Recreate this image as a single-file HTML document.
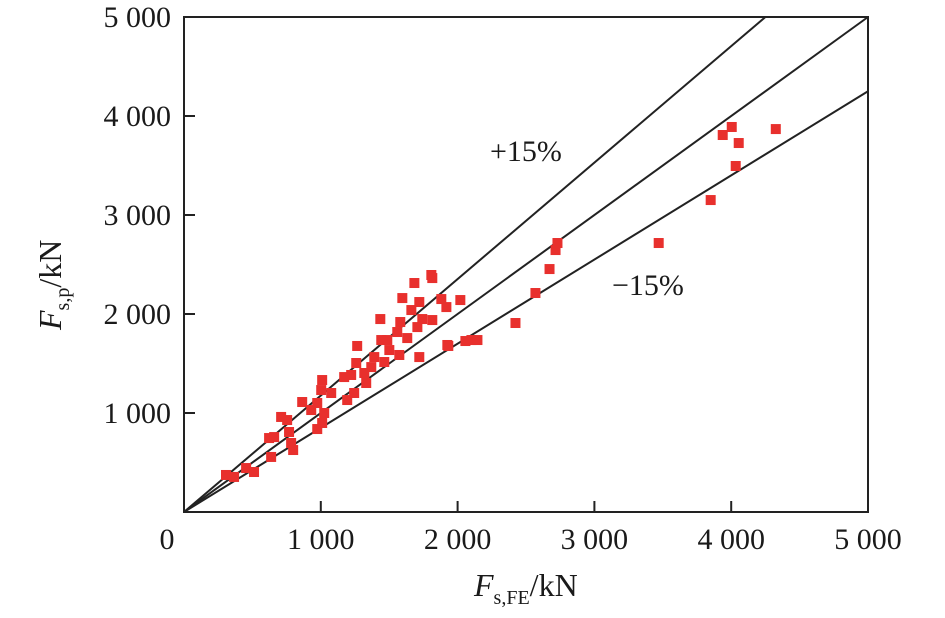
<!DOCTYPE html>
<html><head><meta charset="utf-8"><style>
html,body{margin:0;padding:0;background:#fff;}
svg text{font-family:"Liberation Serif",serif;fill:#1a1a1a;}
</style></head><body>
<svg id="chart" width="945" height="613" viewBox="0 0 945 613" xmlns="http://www.w3.org/2000/svg">
<g id="marks"></g>
<g id="axes"></g>
<text x="490" y="161" font-size="30">+15%</text>
<text x="612" y="295" font-size="30">−15%</text>
<text x="474" y="596" font-size="32"><tspan font-style="italic">F</tspan><tspan font-size="20" dy="8">s,FE</tspan><tspan dy="-8">/kN</tspan></text>
<text transform="translate(61,330) rotate(-90)" font-size="32"><tspan font-style="italic">F</tspan><tspan font-size="20" dy="8">s,p</tspan><tspan dy="-8">/kN</tspan></text>
</svg>
<script>
const xTicks=[0,1000,2000,3000,4000,5000];
const yTicks=[1000,2000,3000,4000,5000];
const tickLabels=["0","1 000","2 000","3 000","4 000","5 000"];
const ratios=[1/0.85,1,0.85];
const xVals=[1808,1815,1684,1596,1720,1881,2020,1918,1815,1742,1662,1581,1435,1706,1632,1559,1486,1442,1925,2101,2145,1720,1574,1501,1464,1391,1369,1266,1318,1259,1222,1171,1244,1193,1332,1010,1003,1076,864,930,974,1025,1010,974,710,754,768,622,659,783,798,637,307,366,454,512,4004,4326,3938,4055,4033,3850,3470,2730,2716,2672,2569,2423,2057,1932];
const yVals=[2394,2363,2313,2161,2121,2151,2141,2070,1939,1949,2040,1919,1949,1868,1757,1818,1737,1737,1687,1737,1737,1565,1586,1636,1515,1565,1464,1677,1404,1505,1384,1363,1202,1131,1303,1333,1232,1202,1111,1030,1101,1000,899,838,960,929,808,747,757,697,626,556,374,354,444,404,3889,3868,3808,3727,3495,3151,2717,2717,2646,2454,2212,1909,1727,1677];
const NS="http://www.w3.org/2000/svg";
const X0=184,X1=868,Y0=512,Y1=17,MAX=5000;
const sx=v=>X0+(X1-X0)*v/MAX, sy=v=>Y0-(Y0-Y1)*v/MAX;
function mk(tag,attrs,parent){const e=document.createElementNS(NS,tag);for(const k in attrs)e.setAttribute(k,attrs[k]);parent.appendChild(e);return e;}
const marks=document.getElementById('marks'), axes=document.getElementById('axes');
ratios.forEach((r,i)=>{
 const xe=Math.min(MAX,MAX/r), ye=xe*r;
 const l=mk('line',{x1:sx(0),y1:sy(0),x2:sx(xe),y2:sy(ye),stroke:'#222','stroke-width':2},marks);
 
 
});
xVals.forEach((v,i)=>{
 const r=mk('rect',{x:sx(v)-5,y:sy(yVals[i])-5,width:10,height:10,fill:'#e8302d'},marks);
 
 
});
const fr=mk('rect',{x:X0,y:Y1,width:X1-X0,height:Y0-Y1,fill:'none',stroke:'#222','stroke-width':2},axes);


xTicks.forEach((v,i)=>{
 if(v>0&&v<MAX){const t=mk('line',{x1:sx(v),y1:Y0,x2:sx(v),y2:Y0-11,stroke:'#222','stroke-width':2},axes);
 
 }
 const tx=mk('text',{x:sx(v)+(i===0?-17:0),y:Y0+37,'font-size':30,'text-anchor':'middle'},axes);
 tx.textContent=tickLabels[xTicks.indexOf(v)];
 
 
});
yTicks.forEach(v=>{
 if(v<MAX){const t=mk('line',{x1:X0,y1:sy(v),x2:X0+11,y2:sy(v),stroke:'#222','stroke-width':2},axes);
 
 }
 const tx=mk('text',{x:X0-13,y:sy(v)+10,'font-size':30,'text-anchor':'end'},axes);
 tx.textContent=tickLabels[xTicks.indexOf(v)];
 
 
});
</script>
</body></html>
